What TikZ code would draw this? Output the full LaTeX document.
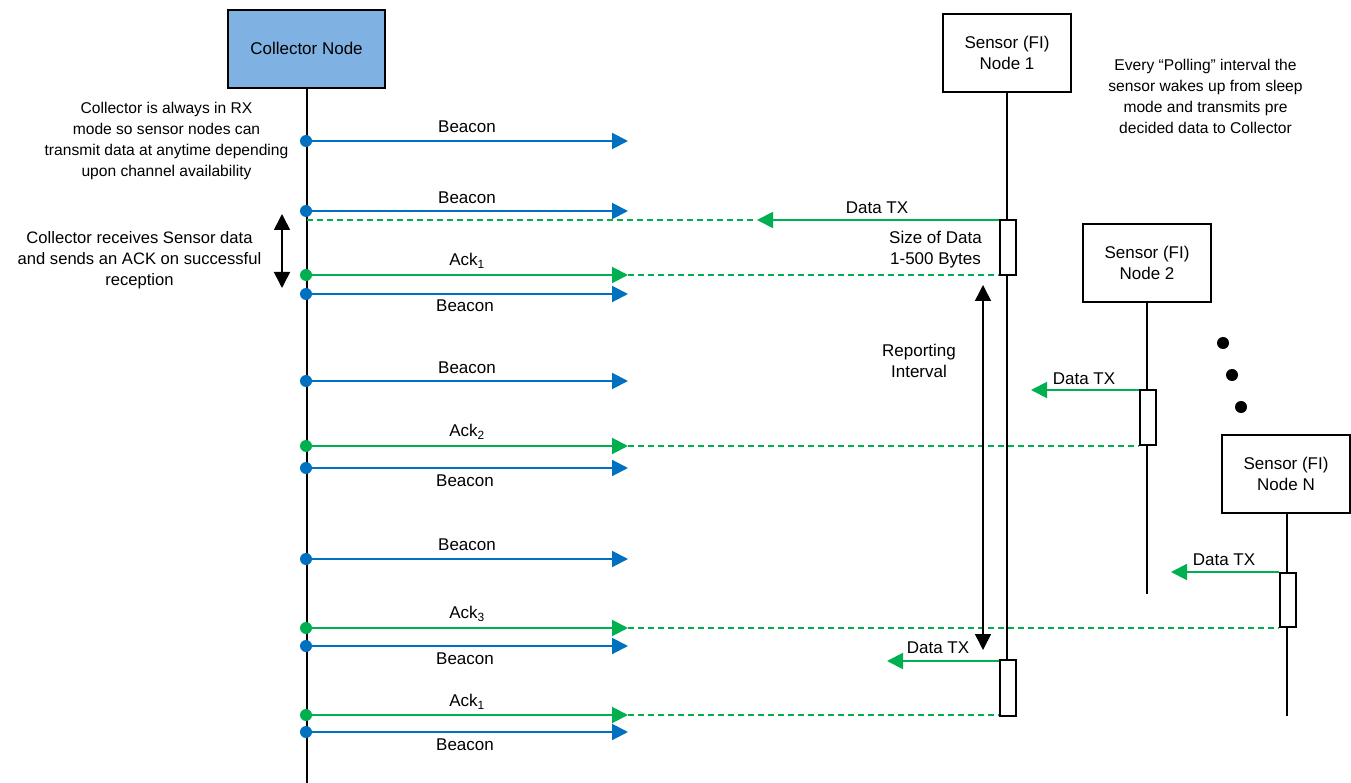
\documentclass[tikz,border=0pt]{standalone}
\usepackage{fontspec}
\setmainfont{Liberation Sans}
\usetikzlibrary{arrows.meta}
\definecolor{cblue}{RGB}{0,112,192}
\definecolor{cgreen}{RGB}{0,176,80}
\definecolor{cfill}{RGB}{127,178,226}
\tikzset{
 actor/.style={draw=black,line width=2pt,align=center,inner sep=0pt,minimum width=128pt,minimum height=78pt,fill=white,font=\fontsize{17}{21}\selectfont},
 life/.style={draw=black,line width=1.6pt},
 act/.style={draw=black,line width=2pt,fill=white,minimum width=16pt,inner sep=0pt},
 bdot/.style={circle,fill=cblue,inner sep=0pt,minimum size=12pt},
 gdot/.style={circle,fill=cgreen,inner sep=0pt,minimum size=12pt},
 kdot/.style={circle,fill=black,inner sep=0pt,minimum size=12pt},
 blue arrow/.style={draw=cblue,line width=2pt,-{Triangle[length=16pt,width=16pt]}},
 green arrow/.style={draw=cgreen,line width=2pt,-{Triangle[length=16pt,width=16pt]}},
 green dash/.style={draw=cgreen,line width=1.6pt,dash pattern=on 6pt off 4pt},
 dbl/.style={draw=black,line width=1.6pt,{Triangle[length=16pt,width=16pt]}-{Triangle[length=16pt,width=16pt]}},
 lab/.style={inner sep=0pt,align=center,font=\fontsize{17}{21}\selectfont},
 note/.style={inner sep=0pt,align=center,font=\fontsize{15.6}{21}\selectfont},
}
\begin{document}
\begin{tikzpicture}[x=1pt,y=-1pt]
\useasboundingbox (0,0) rectangle (1351,783);
% lifelines
\node[actor,fill=cfill,minimum width=157pt] (col) at (306.5,49) {\raisebox{2pt}{Collector Node}};
\node[actor] (s1) at (1007,53) {Sensor (FI)\\Node 1};
\node[actor] (s2) at (1147,263) {Sensor (FI)\\Node 2};
\node[actor] (sn) at (1286,473.5) {Sensor (FI)\\Node N};
\coordinate (colend) at (307,783);
\coordinate (s1end) at (1007,660);
\coordinate (s2end) at (1147,594);
\coordinate (snend) at (1287,716);
\draw[life] (col.south -| colend) -- (colend);
\draw[life] (s1.south) -- (s1end);
\draw[life] (s2.south) -- (s2end);
\draw[life] (sn.south -| snend) -- (snend);
% activations
\node[act,minimum height=55pt] (a1) at (1008,248) {};
\node[act,minimum height=56pt] (a2) at (1008,688) {};
\node[act,minimum height=55pt] (a3) at (1148,417.5) {};
\node[act,minimum height=54pt] (a4) at (1288,600) {};
% beacon arrows
\foreach \n/\y in {b1/141,b2/211,b3/294,b4/381,b5/468,b6/559,b7/646,b8/732}{
 \node[bdot] (\n) at (306,\y) {};
 \coordinate (\n e) at (628,\y);
 \draw[blue arrow] (\n) -- (\n e);
}
% ack arrows
\foreach \n/\y in {k1/275,k2/446,k3/628,k4/715}{
 \node[gdot] (\n) at (306,\y) {};
 \coordinate (\n e) at (628,\y);
}
\coordinate (d0s) at (307,220);
\coordinate (d0e) at (757,220);
\draw[green dash] (d0s) -- (d0e);
\draw[green dash] (k1e) -- (k1e -| a1.west);
\draw[green dash] (k2e) -- (k2e -| a3.west);
\draw[green dash] (k3e) -- (k3e -| a4.west);
\draw[green dash] (k4e) -- (k4e -| a2.west);
\foreach \n in {k1,k2,k3,k4}{\draw[green arrow] (\n) -- (\n e);}
% data tx
\coordinate (t1) at (757,220);
\coordinate (t2) at (1031,390);
\coordinate (t3) at (1171,572);
\coordinate (t4) at (887,661);
\draw[green arrow] (t1 -| a1.west) -- (t1);
\draw[green arrow] (t2 -| a3.west) -- (t2);
\draw[green arrow] (t3 -| a4.west) -- (t3);
\draw[green arrow] (t4 -| a2.west) -- (t4);
% double arrows
\coordinate (u1) at (282,214);
\coordinate (u2) at (282,288);
\coordinate (v1) at (983,285);
\coordinate (v2) at (983,650);
\draw[dbl] (u1) -- (u2);
\draw[dbl] (v1) -- (v2);
% dots
\node[kdot] (e1) at (1223,343) {};
\node[kdot] (e2) at (1232,375) {};
\node[kdot] (e3) at (1241,407) {};
% labels
\foreach \n/\x/\y in {1/467/127,2/467/198,3/465/306,4/467/368,5/465/481,6/467/545,7/465/659,8/465/745}{
 \node[lab] (lb\n) at (\x,\y) {Beacon};
}
\node[lab] (la1) at (467,261) {Ack\textsubscript{1}};
\node[lab] (la2) at (467,432) {Ack\textsubscript{2}};
\node[lab] (la3) at (467,614) {Ack\textsubscript{3}};
\node[lab] (la4) at (467,702) {Ack\textsubscript{1}};
\node[lab] (ld1) at (877,208) {Data TX};
\node[lab] (ld2) at (1084,379) {Data TX};
\node[lab] (ld3) at (1224,560) {Data TX};
\node[lab] (ld4) at (938,648) {Data TX};
\node[lab] (sz) at (935.5,250) {Size of Data\\1-500 Bytes};
\node[lab] (ri) at (919,361) {Reporting\\Interval};
\node[note] (n1) at (166.5,141) {Collector is always in RX\\mode so sensor nodes can\\transmit data at anytime depending\\upon channel availability};
\node[note,font=\fontsize{16.6}{21}\selectfont] (n2) at (139.5,260) {Collector receives Sensor data\\and sends an ACK on successful\\reception};
\node[note] (n3) at (1205.5,96) {Every “Polling” interval the\\sensor wakes up from sleep\\mode and transmits pre\\decided data to Collector};
\end{tikzpicture}
\end{document}
